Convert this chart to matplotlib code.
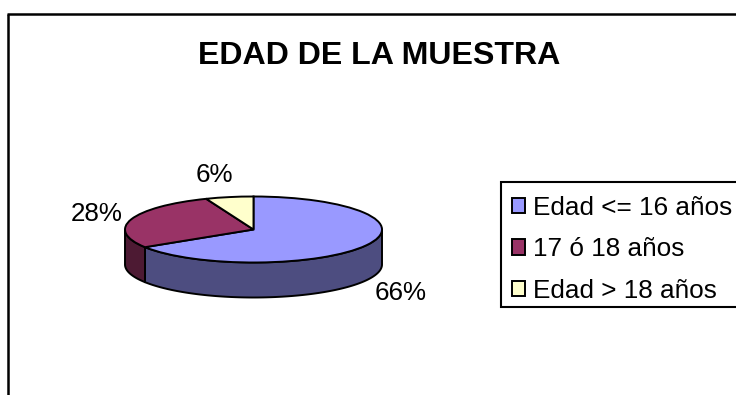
import numpy as np
import matplotlib
matplotlib.use("Agg")
import matplotlib.pyplot as plt
from matplotlib.lines import Line2D
from matplotlib.patches import Polygon, Rectangle

plt.rcParams['font.family'] = ['Liberation Sans', 'DejaVu Sans']

title = "EDAD DE LA MUESTRA"
categories = ["Edad <= 16 años", "17 ó 18 años", "Edad > 18 años"]
values = [66, 28, 6]
top_colors = ["#9999FF", "#993366", "#FFFFCC"]
side_colors = ["#4D4D80", "#4D1A33", "#80806A"]

W, H = 736, 395
fig = plt.figure(figsize=(W / 100, H / 100), dpi=100, facecolor="white")

# Outer frame (open on the right and bottom, as in the source)
for xs, ys in (([8.0, 8.0], [H, 14.0]), ([7.0, W], [14.0, 14.0])):
    fig.add_artist(Line2D(np.array(xs) / W, 1 - np.array(ys) / H,
                          color="black", lw=1.8, solid_capstyle="butt"))

fig.text(379.5 / W, 1 - 56 / H, title, ha="center", va="center",
         fontsize=23.1, fontweight="bold", color="black")

# Pie axes: unit circle squashed to an ellipse
cx, cy, rx, ry, depth = 253.5, 229.5, 128.5, 33, 35
ylo, yhi = -1 - depth / ry - 0.1, 1.1
ax = fig.add_axes([(cx - 1.1 * rx) / W,
                   1 - (cy - ylo * ry) / H,
                   2.2 * rx / W,
                   (yhi - ylo) * ry / H])
wedges, _ = ax.pie(values, colors=top_colors, startangle=90, counterclock=False,
                   wedgeprops=dict(edgecolor="black", linewidth=1.4), radius=1,
                   normalize=True)
for w in wedges:
    w.set_zorder(3)
ax.set_aspect("auto")
ax.set_xlim(-1.1, 1.1)
ax.set_ylim(ylo, yhi)
ax.axis("off")

# Side walls, taken from the same slices
d = depth / ry
for w, c in zip(wedges, side_colors):
    a0, a1 = w.theta1 % 360, w.theta2 % 360
    if a1 <= a0:
        a1 += 360
    spans = [(max(a0, s), min(a1, e)) for s, e in ((180, 360), (540, 720))]
    for s, e in spans:
        if e <= s:
            continue
        t = np.radians(np.linspace(s, e, 120))
        x, y = np.cos(t), np.sin(t)
        ax.add_patch(Polygon(np.r_[np.c_[x, y], np.c_[x[::-1], y[::-1] - d]],
                             closed=True, facecolor=c, edgecolor="black",
                             linewidth=1.4, zorder=2, joinstyle="round"))

# Percentage labels
label_pos = [(400.5, 293), (97, 214), (214, 175)]
for v, (lx, ly) in zip(values, label_pos):
    fig.text(lx / W, 1 - ly / H, f"{v}%", ha="center", va="center",
             fontsize=18.7, color="black")

# Legend box runs off the right edge of the picture
fig.add_artist(Rectangle((500.5 / W, 1 - 307 / H), 260 / W, 125 / H,
                         transform=fig.transFigure, facecolor="white",
                         edgecolor="black", linewidth=1.5, zorder=1))
leg = fig.legend(wedges, categories, loc="upper left",
                 bbox_to_anchor=(497.5 / W, 1 - 182 / H),
                 bbox_transform=fig.transFigure, fontsize=18.85,
                 frameon=False, borderaxespad=0,
                 borderpad=0.535, labelspacing=0.66, handlelength=0.53,
                 handleheight=0.53, handletextpad=0.29)
leg.set_zorder(2)
for h in leg.legend_handles:
    h.set_linewidth(1.4)

fig.savefig("out.png", dpi=100, facecolor="white")
